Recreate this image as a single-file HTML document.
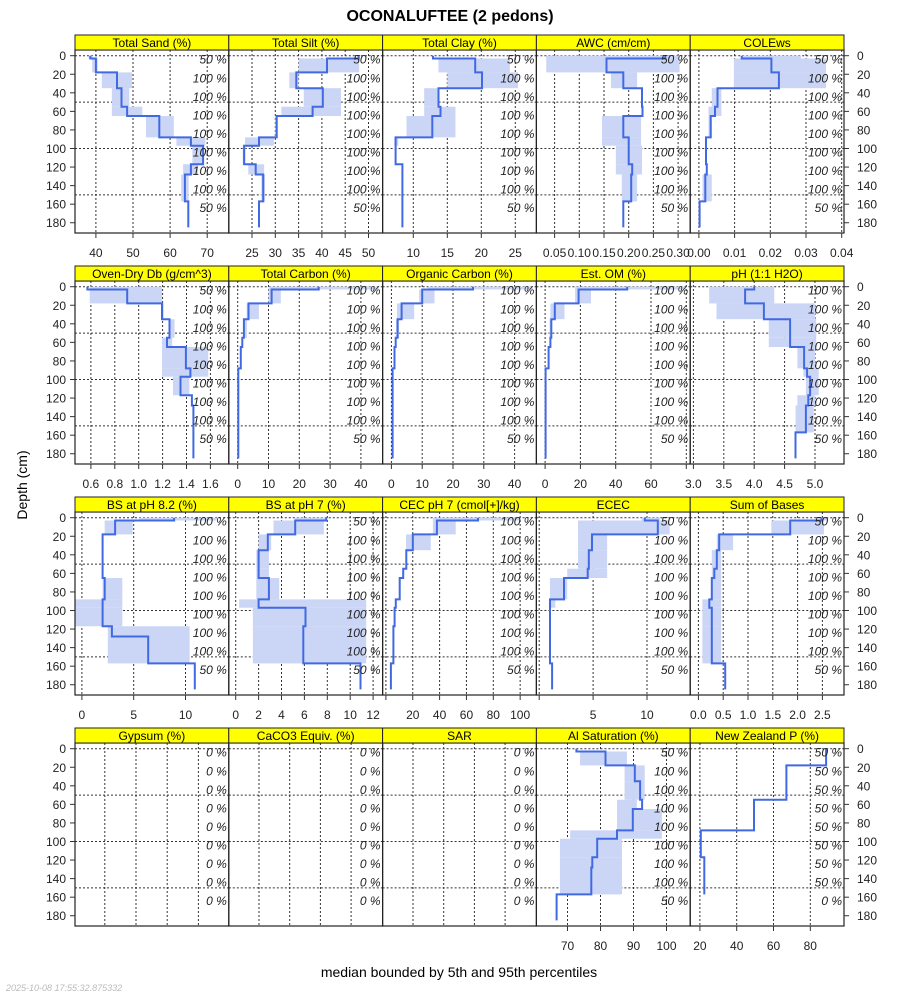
<!DOCTYPE html>
<html><head><meta charset="utf-8"><title>OCONALUFTEE</title>
<style>
html,body{margin:0;padding:0;background:#fff;}
svg{display:block;font-family:"Liberation Sans",sans-serif;}
</style></head>
<body>
<svg id="chart" width="900" height="1000" viewBox="0 0 900 1000" xmlns="http://www.w3.org/2000/svg">
<text x="450" y="21" text-anchor="middle" font-size="16" font-weight="bold">OCONALUFTEE (2 pedons)</text>
<text x="0" y="0" transform="translate(27,485) rotate(-90)" text-anchor="middle" font-size="14">Depth (cm)</text>
<text x="459" y="977" text-anchor="middle" font-size="14">median bounded by 5th and 95th percentiles</text>
<text x="6" y="991" font-size="9" font-style="italic" fill="#bbb">2025-10-08 17:55:32.875332</text>
<g id="panels"></g>
</svg>
<script>
// segment depth breakpoints (cm)
const depths = [0,3,18,35,55,65,88,97,117,128,157,185];
const depthTicks = [0,20,40,60,80,100,120,140,160,180];

const sandMed=[38.5,40,45.7,46.9,48.4,57.1,65.6,68.9,65.6,64,64.9];
const sandLo =[38,39,41.6,44.3,44.3,53.5,61.7,66,63.5,63,64.9];
const sandHi =[39,40.5,49.7,49,52.5,61,69.5,69,67.5,65,64.9];
const siltMed=[47.9,41.1,34.5,40.2,38,30.3,26.5,23.3,25.8,27.4,26.5];
const siltLo =[47.9,35,33,36.1,31.3,30,23.5,23,24.2,27,26.5];
const siltHi =[47.9,48,35,44.1,44.1,30.5,29.7,23.6,27.6,27.8,26.5];
const clayMed=[12.9,19.1,20.1,13.7,14,12.8,7.4,7.4,8.4,8.4,8.4];
const clayLo =[12.9,13.7,15,11.6,11.6,9,7.2,7.4,8.4,8.4,8.4];
const clayHi =[12.9,24.2,25.4,13.7,16.2,16.2,7.8,7.4,8.4,8.4,8.4];
const awcMed=[0.274,0.155,0.189,0.227,0.228,0.189,0.2,0.2,0.207,0.205,0.189];
const awcLo =[0.033,0.033,0.164,0.227,0.228,0.146,0.146,0.174,0.174,0.186,0.189];
const awcHi =[0.303,0.303,0.217,0.227,0.228,0.225,0.225,0.227,0.227,0.217,0.189];
const coleMed=[0.012,0.0203,0.0224,0.0052,0.0045,0.0033,0.002,0.002,0.0022,0.0018,0.0002];
const coleLo =[0.012,0.0098,0.0098,0.0036,0.0027,0.0027,0.002,0.002,0.0022,0.001,0.0002];
const coleHi =[0.0286,0.0356,0.0356,0.0063,0.0063,0.0036,0.002,0.002,0.0022,0.0036,0.0002];

const dbMed=[0.571,0.904,1.195,1.258,1.237,1.395,1.433,1.35,1.445,1.458,1.458];
const dbLo =[0.59,0.59,1.195,1.25,1.195,1.195,1.195,1.287,1.445,1.458,1.458];
const dbHi =[1.195,1.195,1.21,1.3,1.28,1.582,1.582,1.424,1.445,1.458,1.458];
const tcMed=[26.3,11,3.5,2,1.5,1,0.2,0.2,0.2,0.2,0.2];
const tcLo =[10,10,2.9,1.8,1.5,1,0.2,0.2,0.2,0.2,0.2];
const tcHi =[45.7,14,6.9,3,1.5,1,0.2,0.2,0.2,0.2,0.2];
const ocMed=[26.5,10,3.3,2,1.4,1,0.4,0.4,0.4,0.4,0.4];
const ocLo =[11.9,9,1.8,1.5,1.4,1,0.4,0.4,0.4,0.4,0.4];
const ocHi =[45.9,14,7.4,2.5,1.4,1,0.4,0.4,0.4,0.4,0.4];
const omMed=[46.5,19,5.5,3.5,3,2,0.3,0.3,0.3,0.3,0.3];
const omLo =[17,17,3,2.5,3,2,0.3,0.3,0.3,0.3,0.3];
const omHi =[80,26,11,4,3,2,0.3,0.3,0.3,0.3,0.3];
const phMed=[4.0,3.85,4.16,4.59,4.59,4.82,4.87,4.92,4.89,4.85,4.68];
const phLo =[3.26,3.26,3.38,4.24,4.24,4.71,4.81,4.85,4.71,4.68,4.68];
const phHi =[4.33,4.33,5.0,5.02,5.02,5.0,5.06,5.06,5.0,4.98,4.68];

const bs82Med=[8.9,3.2,2.0,2.0,2.0,2.2,2.0,2.0,2.9,6.4,10.9];
const bs82Lo =[5.5,2.2,2.0,2.0,2.0,2.0,-1.1,-1.1,2.5,2.5,10.9];
const bs82Hi =[13,4.9,2.0,2.0,2.0,3.9,3.9,3.9,10.4,10.4,10.9];
const bs7Med=[7.9,5.2,2.8,2.0,2.0,2.9,2.0,6.1,5.9,5.9,10.9];
const bs7Lo =[5.2,3.3,2.0,1.8,1.8,1.8,0.3,1.5,1.5,1.5,10.9];
const bs7Hi =[7.9,7.7,3.1,2.9,2.9,3.8,11.4,11.4,11.4,11.4,10.9];
const cecMed=[68.6,38,20,15.2,12.9,10.3,7.4,6.5,5.6,5.6,3.7];
const cecLo =[35,35,15,15.2,12.9,10.3,7.4,6.5,5.6,5.6,3.7];
const cecHi =[100,52,33.4,15.2,12.9,10.3,7.4,6.5,5.6,5.6,3.7];
const ececMed=[9.8,11,4.9,4.6,4.5,2.3,1.0,1.0,1.0,1.0,1.2];
const ececLo =[9.5,3.6,3.6,3.6,2.6,1.0,0.9,1.0,1.0,1.0,1.2];
const ececHi =[11.2,12.1,6.3,6.3,6.3,2.6,1.5,1.0,1.0,1.0,1.2];
const sobMed=[2.48,1.85,0.42,0.37,0.32,0.27,0.22,0.27,0.27,0.27,0.54];
const sobLo =[2.48,1.47,0.37,0.27,0.27,0.27,0.08,0.08,0.08,0.08,0.54];
const sobHi =[2.6,2.53,0.7,0.46,0.46,0.46,0.46,0.46,0.46,0.46,0.54];

const alMed=[72.7,81.5,90.4,92,92.6,89.8,85,79,77.5,77.2,66.7];
const alLo =[72.7,73.8,87.3,87.3,85,85,70.8,67.7,67.7,67.7,66.7];
const alHi =[72.7,88,93.4,93.4,91,98.6,98.6,86.5,86.5,86.5,66.7];
const nzpMed=[88.6,88.6,67,67,49.4,49.4,20.5,20.5,22.4,22.4,null];

const pctA=["50 %","100 %","100 %","100 %","100 %","100 %","100 %","100 %","50 %"];
const pctB=["100 %","100 %","100 %","100 %","100 %","100 %","100 %","100 %","50 %"];
const pctZero=["0 %","0 %","0 %","0 %","0 %","0 %","0 %","0 %","0 %"];
const pctNz=["50 %","50 %","50 %","50 %","50 %","50 %","50 %","50 %","0 %"];

const panels=[
 {t:"Total Sand (%)",n:"total-sand",p0:95.9,v0:40,k:3.71,ticks:[40,50,60,70],lab:["40","50","60","70"],med:sandMed,lo:sandLo,hi:sandHi,pct:pctA},
 {t:"Total Silt (%)",n:"total-silt",p0:252,v0:25,k:4.66,ticks:[25,30,35,40,45,50],lab:["25","30","35","40","45","50"],med:siltMed,lo:siltLo,hi:siltHi,pct:pctA},
 {t:"Total Clay (%)",n:"total-clay",p0:413.3,v0:10,k:6.8,ticks:[10,15,20,25],lab:["10","15","20","25"],med:clayMed,lo:clayLo,hi:clayHi,pct:pctA},
 {t:"AWC (cm/cm)",n:"awc",p0:554.6,v0:0.05,k:494,ticks:[0.05,0.1,0.15,0.2,0.25,0.3],lab:["0.05","0.10","0.15","0.20","0.25","0.30"],med:awcMed,lo:awcLo,hi:awcHi,pct:pctA},
 {t:"COLEws",n:"colews",p0:698.9,v0:0,k:3570,ticks:[0,0.01,0.02,0.03,0.04],lab:["0.00","0.01","0.02","0.03","0.04"],med:coleMed,lo:coleLo,hi:coleHi,pct:pctA},
 {t:"Oven-Dry Db (g/cm^3)",n:"oven-dry-db",p0:90.9,v0:0.6,k:119.5,ticks:[0.6,0.8,1.0,1.2,1.4,1.6],lab:["0.6","0.8","1.0","1.2","1.4","1.6"],med:dbMed,lo:dbLo,hi:dbHi,pct:pctA},
 {t:"Total Carbon (%)",n:"total-carbon",p0:237.7,v0:0,k:3.08,ticks:[0,10,20,30,40],lab:["0","10","20","30","40"],med:tcMed,lo:tcLo,hi:tcHi,pct:pctB},
 {t:"Organic Carbon (%)",n:"organic-carbon",p0:391.4,v0:0,k:3.08,ticks:[0,10,20,30,40],lab:["0","10","20","30","40"],med:ocMed,lo:ocLo,hi:ocHi,pct:pctB},
 {t:"Est. OM (%)",n:"est-om",p0:545.1,v0:0,k:1.765,ticks:[0,20,40,60,80],lab:["0","20","40","60",""],med:omMed,lo:omLo,hi:omHi,pct:pctB},
 {t:"pH (1:1 H2O)",n:"ph",p0:693.4,v0:3,k:60.8,ticks:[3,3.5,4,4.5,5],lab:["3.0","3.5","4.0","4.5","5.0"],med:phMed,lo:phLo,hi:phHi,pct:pctB},
 {t:"BS at pH 8.2 (%)",n:"bs-ph82",p0:81.9,v0:0,k:10.36,ticks:[0,5,10],lab:["0","5","10"],med:bs82Med,lo:bs82Lo,hi:bs82Hi,pct:pctB},
 {t:"BS at pH 7 (%)",n:"bs-ph7",p0:235.7,v0:0,k:11.45,ticks:[0,2,4,6,8,10,12],lab:["0","2","4","6","8","10","12"],med:bs7Med,lo:bs7Lo,hi:bs7Hi,pct:pctA},
 {t:"CEC pH 7 (cmol[+]/kg)",n:"cec-ph7",p0:385.9,v0:0,k:1.3425,ticks:[0,20,40,60,80,100],lab:["","20","40","60","80","100"],med:cecMed,lo:cecLo,hi:cecHi,pct:pctB},
 {t:"ECEC",n:"ecec",p0:539.2,v0:0,k:10.78,ticks:[0,5,10],lab:["","5","10"],med:ececMed,lo:ececLo,hi:ececHi,pct:pctA},
 {t:"Sum of Bases",n:"sum-of-bases",p0:698.4,v0:0,k:49.6,ticks:[0,0.5,1,1.5,2,2.5],lab:["0.0","0.5","1.0","1.5","2.0","2.5"],med:sobMed,lo:sobLo,hi:sobHi,pct:pctA},
 {t:"Gypsum (%)",n:"gypsum",p0:104.8,v0:0,k:31.2,ticks:[0,1,2,3],lab:null,med:null,lo:null,hi:null,pct:pctZero},
 {t:"CaCO3 Equiv. (%)",n:"caco3-equiv",p0:259,v0:0,k:30.7,ticks:[0,1,2,3],lab:null,med:null,lo:null,hi:null,pct:pctZero},
 {t:"SAR",n:"sar",p0:413,v0:0,k:30.7,ticks:[0,1,2,3],lab:null,med:null,lo:null,hi:null,pct:pctZero},
 {t:"Al Saturation (%)",n:"al-saturation",p0:567.5,v0:70,k:3.3,ticks:[70,80,90,100],lab:["70","80","90","100"],med:alMed,lo:alLo,hi:alHi,pct:pctA},
 {t:"New Zealand P (%)",n:"new-zealand-p",p0:699.9,v0:20,k:1.84,ticks:[20,40,60,80],lab:["20","40","60","80"],med:nzpMed,lo:null,hi:null,pct:pctNz}
];

const NS="http://www.w3.org/2000/svg";
const root=document.getElementById('panels');
function mk(tag,attrs,parent,text){
  const e=document.createElementNS(NS,tag);
  for(const a in attrs) e.setAttribute(a,attrs[a]);
  if(text!==undefined) e.textContent=text;
  (parent||root).appendChild(e);
  return e;
}
const PW=153.8, X0=75;
function rowTop(r){return 35+231*r;}
function yScale(r,d){return rowTop(r)+20.7+0.928*d;}

panels.forEach((p,i)=>{
  const r=Math.floor(i/5), c=i%5;
  const L=X0+c*PW, R=L+PW, T=rowTop(r), B=T+198;
  const xs=v=>p.p0+(v-p.v0)*p.k;
  const g=mk('g',{});
  
  
  const cp=mk('clipPath',{id:'cp'+i},g);
  mk('rect',{x:L,y:T+15,width:PW,height:183},cp);
  const grid=mk('g',{stroke:'#333','stroke-width':1,'stroke-dasharray':'2,2'},g);
  
  
  p.ticks.forEach(v=>{const x=xs(v); if(x>L+1&&x<R-1) mk('line',{x1:x,x2:x,y1:T+15,y2:B},grid);});
  [0,50,100,150].forEach(d=>{const y=yScale(r,d); mk('line',{x1:L,x2:R,y1:y,y2:y},grid);});
  const cg=mk('g',{'clip-path':'url(#cp'+i+')'},g);
  if(p.lo){
    for(let s=0;s<depths.length-1;s++){
      const a=xs(p.lo[s]), b=xs(p.hi[s]);
      if(Math.abs(b-a)<0.5) continue;
      const band=mk('rect',{x:Math.min(a,b),y:yScale(r,depths[s]),width:Math.abs(b-a),height:yScale(r,depths[s+1])-yScale(r,depths[s]),fill:'#cbd6f6'},cg);
      
      
    }
  }
  if(p.med){
    let d='';
    for(let s=0;s<depths.length-1;s++){
      if(p.med[s]===null) break;
      const x=xs(p.med[s]);
      d+=(d?'L':'M')+x.toFixed(1)+','+yScale(r,depths[s]).toFixed(1)+'L'+x.toFixed(1)+','+yScale(r,depths[s+1]).toFixed(1);
    }
    const ln=mk('path',{d:d,fill:'none',stroke:'#4169e1','stroke-width':2},cg);
    
    
  }
  p.pct.forEach((t,j)=>{
    const lb=mk('text',{x:R-2,y:yScale(r,20*j)+8,'text-anchor':'end','font-size':12,'font-style':'italic',fill:'#222'},g,t);
    
    
  });
  mk('rect',{x:L,y:T+15,width:PW,height:183,fill:'none',stroke:'#222','stroke-width':1.2},g);
  const st=mk('rect',{x:L,y:T,width:PW,height:15,fill:'#ffff00',stroke:'#222','stroke-width':1},g);
  
  
  const stt=mk('text',{x:L+PW/2,y:T+12,'text-anchor':'middle','font-size':12},g,p.t);
  
  
  if(p.lab){
    p.ticks.forEach((v,j)=>{
      const x=xs(v);
      mk('line',{x1:x,x2:x,y1:B,y2:B+5,stroke:'#333'},g);
      if(p.lab[j]){
        const tl=mk('text',{x:x,y:B+24,'text-anchor':'middle','font-size':12,fill:'#222'},g,p.lab[j]);
        
        
      }
    });
  }
});
for(let r=0;r<4;r++){
  depthTicks.forEach(d=>{
    const y=yScale(r,d);
    mk('line',{x1:70,x2:75,y1:y,y2:y,stroke:'#333'});
    mk('line',{x1:844,x2:849,y1:y,y2:y,stroke:'#333'});
    const a=mk('text',{x:66,y:y+4.5,'text-anchor':'end','font-size':12,fill:'#222'},root,String(d));
    
    
    const b=mk('text',{x:857,y:y+4.5,'font-size':12,fill:'#222'},root,String(d));
    
    
  });
}
</script>
</body></html>
